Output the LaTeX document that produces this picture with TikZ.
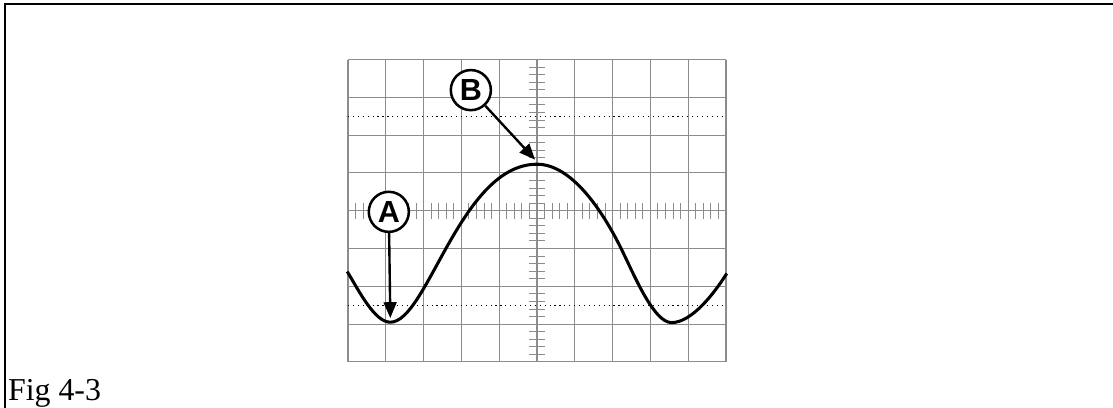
\documentclass[tikz,border=0pt]{standalone}
\usepackage{fontspec}
\setmainfont{Liberation Serif}
\newfontfamily\markfont{Liberation Sans}
\usetikzlibrary{arrows.meta}

\begin{document}
\begin{tikzpicture}[
  gridline/.style={black!45, line width=0.8pt},
  tick/.style={black!45, line width=0.7pt},
  level/.style={black, line width=0.8pt, dash pattern=on 0.9pt off 2.8pt},
  wave/.style={black, line width=2.3pt, line join=round},
  marker/.style={circle, draw, line width=1.9pt, minimum size=1.06cm, inner sep=0pt, fill=white, font=\markfont\bfseries\fontsize{23}{23}\selectfont},
  arr/.style={-{Triangle[length=0.42cm, width=0.34cm]}, line width=1.8pt},
  frame/.style={black, line width=1.6pt},
]
\useasboundingbox (-14.206,-5.193) rectangle (15.238,5.574);

% outer frame, top and left only
\draw[frame] (-14.074,-5.3) -- (-14.074,5.468) -- (15.3,5.468);
\node[anchor=base west, inner sep=0pt, font=\fontsize{24}{24}\selectfont] (caption) at (-14.0,-5.03) {Fig 4-3};

% screen graticule
\draw[gridline] (-5,-4) grid (5,4);
\foreach \t in {-4.8,-4.6,...,4.81} {
  \draw[tick] (\t,-0.21) -- (\t,0.21);
}
\foreach \t in {-3.8,-3.6,...,3.81} {
  \draw[tick] (-0.21,\t) -- (0.21,\t);
}
\draw[tick] (-0.2,-0.2) rectangle (0.2,0.2);

\draw[level] (-5,2.5) -- (5,2.5);
\draw[level] (-5,-2.5) -- (5,-2.5);

% trace
\draw[wave] (-5.02,-1.61) .. controls (-4.72,-2.1) and (-4.3,-2.95) .. (-3.88,-2.95)
  .. controls (-2.9,-2.95) and (-2.02,1.23) .. (0,1.23)
  .. controls (1.0,1.23) and (1.85,-0.23) .. (2.25,-1.05)
  .. controls (2.6,-1.77) and (3.1,-2.96) .. (3.56,-2.96)
  .. controls (4.1,-2.96) and (4.7,-2.17) .. (5.02,-1.66);

\coordinate (lowA) at (-3.88,-2.84);
\coordinate (peakB) at (-0.05,1.35);

\node[marker] (A) at (-3.92,-0.03) {A};
\node[marker] (B) at (-1.75,3.19) {B};

\draw[arr] (A) -- (lowA);
\draw[arr] (B) -- (peakB);
\end{tikzpicture}
\end{document}
